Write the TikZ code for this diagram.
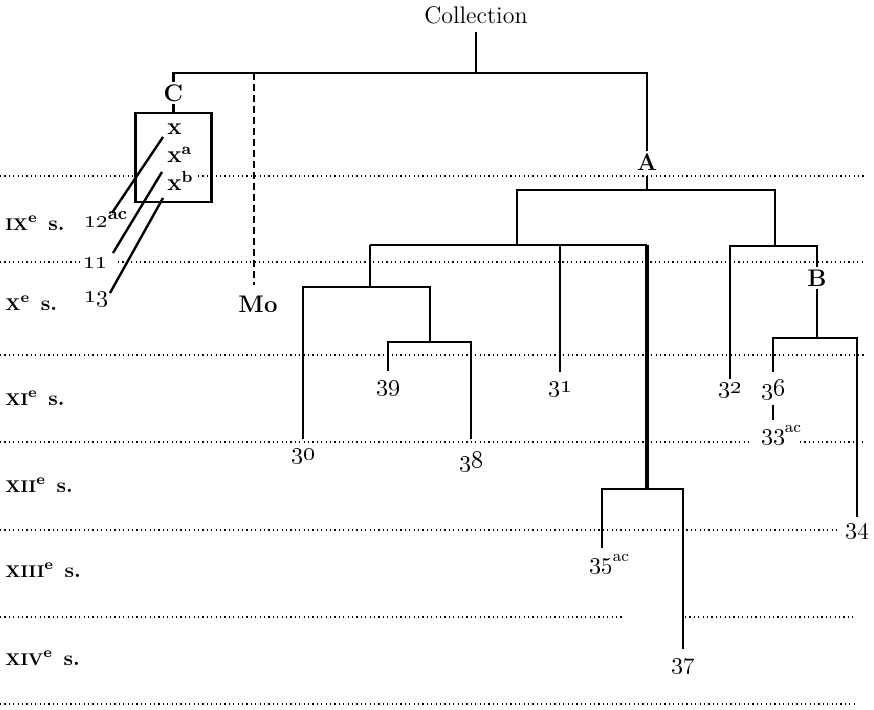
\documentclass[tikz,border=0pt]{standalone}
\usetikzlibrary{calc}
\newcommand\osn[1]{\oldstylenums{#1}}
\newcommand\siecle[1]{{\bfseries{\fontsize{8.5}{10}\selectfont #1}\textsuperscript{e}\enspace s.}}
\tikzset{
  lab/.style={inner sep=1pt, font=\fontsize{11.5}{13}\selectfont},
  blab/.style={inner sep=1pt, font=\fontsize{12}{14}\selectfont\bfseries},
  bnum/.style={inner sep=1pt, font=\fontsize{12.5}{14}\selectfont\bfseries},
  tree/.style={line width=1.4pt, line join=miter},
  trunk/.style={line width=2pt},
  mol/.style={line width=1.3pt, dash pattern=on 3.5pt off 2pt},
  rule/.style={line width=0.6pt, dash pattern=on 0.6pt off 1.6pt},
  diag/.style={line width=1.2pt},
  boxst/.style={draw, line width=1.4pt, minimum width=38pt, minimum height=44.5pt, inner sep=0pt},
  row/.style={anchor=west, inner sep=0pt, font=\fontsize{10.5}{12}\selectfont},
}
\begin{document}
\begin{tikzpicture}[x=0.5pt,y=-0.5pt]
\useasboundingbox (0,0) rectangle (874,710);

% century rules
\draw[rule] (0,176) -- (135,176);
\draw[rule] (198,176) -- (864,176);
\draw[rule] (0,262) -- (83,262);
\draw[rule] (118,262) -- (864,262);
\draw[rule] (0,355) -- (864,355);
\draw[rule] (0,442) -- (752,442);
\draw[rule] (800,442) -- (864,442);
\draw[rule] (0,530) -- (840,530);
\draw[rule] (0,617) -- (623,617);
\draw[rule] (685,617) -- (856,617);
\draw[rule] (0,704) -- (856,704);

% row labels
\node[row] (r9)  at (5,223) {\siecle{IX}};
\node[row] (r10) at (5,303) {\siecle{X}};
\node[row] (r11) at (5,398) {\siecle{XI}};
\node[row] (r12) at (5,485) {\siecle{XII}};
\node[row] (r13) at (5,570) {\siecle{XIII}};
\node[row] (r14) at (5,658) {\siecle{XIV}};

% labels
\node[inner sep=1pt, font=\fontsize{12}{14}\selectfont] (coll) at (476,15) {Collection};
\node[blab] (C) at (173.5,93) {C};
\node[boxst] (box) at (173.5,157.5) {};
\node[blab, anchor=base west] (x1) at (165,135) {x};
\node[blab, anchor=base west] (x2) at (165,163) {x\textsuperscript{a}};
\node[blab, anchor=base west] (x3) at (165,191) {x\textsuperscript{b}};
\node[bnum, anchor=base west] (l12) at (82,228) {\osn{12}\textsuperscript{ac}};
\node[bnum] (l11) at (95,263) {\osn{11}};
\node[bnum] (l13) at (96,300) {\osn{13}};
\node[blab] (Mo) at (258,304) {Mo};
\node[blab] (A) at (647,162) {A};
\node[blab] (B) at (817,278) {B};

\node[lab] (l30) at (303,457) {\osn{30}};
\node[lab] (l39) at (388,389) {\osn{39}};
\node[lab] (l38) at (471,462) {\osn{38}};
\node[lab] (l31) at (560,390) {\osn{31}};
\node[lab] (l32) at (730,391) {\osn{32}};
\node[lab] (l36) at (773,390) {\osn{36}};
\node[lab, anchor=base west] (l33) at (759,441) {\osn{33}\textsuperscript{ac}};
\node[lab] (l34) at (857,532) {\osn{34}};
\node[lab, anchor=base west] (l35) at (587,570) {\osn{35}\textsuperscript{ac}};
\node[lab] (l37) at (683,667) {\osn{37}};

% junctions
\coordinate (j0) at (476,73);
\coordinate (moTop) at (254,73);
\coordinate (jA) at (647,190);
\coordinate (n517) at (517,245);
\coordinate (n775) at (775,246);
\coordinate (b245L) at (370,245);
\coordinate (b245R) at (647,245);
\coordinate (b287) at (370,287);
\coordinate (j287R) at (430,287);
\coordinate (j342) at (430,342);
\coordinate (j489) at (647,489);
\coordinate (e35) at (602,548);
\coordinate (jB) at (817,338);

% diagonal links from the box
\coordinate (d1) at (163,137);
\coordinate (d2) at (162,172);
\coordinate (d3) at (163,198);
\coordinate (f1) at (112,213);
\coordinate (f2) at (113,253);
\coordinate (f3) at (110,293);
\draw[diag] (d1) -- (f1);
\draw[diag] (d2) -- (f2);
\draw[diag] (d3) -- (f3);

% tree
\draw[tree, shorten <=3pt] (coll.south) -- (j0);
\draw[tree] (C.north) |- (j0) -| (A.north);
\draw[tree] (C.south) -- (box.north);
\draw[mol, shorten >=4pt] (moTop) -- (moTop |- Mo.north);
\draw[tree, shorten <=1.5pt] (A.south) -- (jA);
\draw[tree] (n517) |- (jA) -| (n775);

\draw[tree] (b245L) -- (b245R);
\draw[tree, shorten >=4pt] (l31.north |- b245L) -- (l31.north);
\draw[tree] (b245L) -- (b287);
\draw[tree, shorten <=4pt] (l30.north) |- (j287R) -- (j342);
\draw[tree, shorten <=4pt, shorten >=5.5pt] (l39.north) |- (j342) -| (l38.north);
\draw[trunk] (b245R) -- (j489);
\draw[tree, shorten >=4pt] (e35) |- (j489) -| (l37.north);

\draw[tree, shorten <=1pt] (l32.north) |- (B.north |- n775) -- (B.north);
\draw[tree] (B.south) -- (jB);
\draw[tree, shorten <=3pt, shorten >=2.5pt] (l36.north) |- (jB) -| (l34.north);
\draw[tree, shorten <=1.5pt, shorten >=1.5pt] (l36.south) -- (l36.south |- l33.north);
\end{tikzpicture}
\end{document}
